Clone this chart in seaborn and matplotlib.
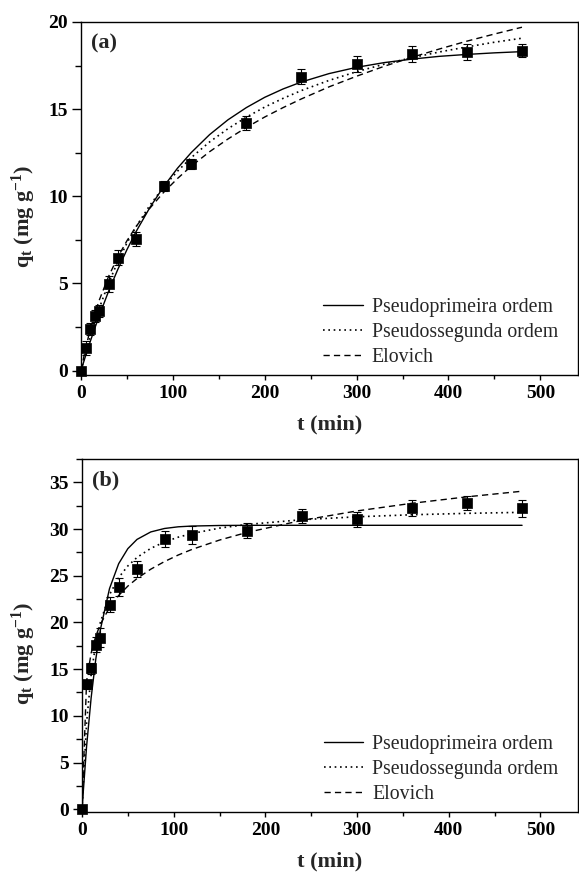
import matplotlib
matplotlib.use("Agg")
import matplotlib.pyplot as plt
import seaborn as sns
from matplotlib.ticker import MultipleLocator

# ---------------- data: panel (a) ----------------
t_a = [0, 5, 10, 15, 20, 30, 40, 60, 90, 120, 180, 240, 300, 360, 420, 480]
q_a = [0, 1.30, 2.37, 3.14, 3.40, 4.96, 6.49, 7.55, 10.60, 11.86, 14.23, 16.87, 17.58, 18.15, 18.27, 18.36]
err_a = [0.2, 0.4, 0.35, 0.35, 0.35, 0.45, 0.45, 0.4, 0.3, 0.3, 0.4, 0.42, 0.45, 0.45, 0.45, 0.38]

tf_a = [0, 5, 10, 15, 20, 30, 40, 50, 60, 75, 90, 105, 120, 140, 160, 180, 200, 220, 240, 270, 300, 330, 360, 390, 420, 450, 480]
pfo_a = [0, 0.85, 1.66, 2.43, 3.17, 4.55, 5.80, 6.94, 7.98, 9.36, 10.56, 11.61, 12.51, 13.54, 14.39, 15.09, 15.68, 16.16, 16.56, 17.04, 17.40, 17.67, 17.87, 18.03, 18.14, 18.23, 18.30]
pso_a = [0, 1.02, 1.95, 2.81, 3.60, 5.02, 6.24, 7.32, 8.26, 9.49, 10.54, 11.44, 12.22, 13.12, 13.88, 14.54, 15.12, 15.62, 16.07, 16.65, 17.15, 17.58, 17.95, 18.28, 18.57, 18.84, 19.07]
elo_a = [0, 1.28, 2.35, 3.26, 4.06, 5.40, 6.51, 7.45, 8.27, 9.32, 10.23, 11.02, 11.73, 12.56, 13.29, 13.95, 14.55, 15.09, 15.59, 16.28, 16.89, 17.46, 17.97, 18.45, 18.90, 19.31, 19.70]

# ---------------- data: panel (b) ----------------
t_b = [0, 5, 10, 15, 20, 30, 40, 60, 90, 120, 180, 240, 300, 360, 420, 480]
q_b = [0, 13.38, 15.09, 17.59, 18.37, 21.87, 23.79, 25.72, 28.93, 29.36, 29.84, 31.43, 31.07, 32.28, 32.82, 32.22]
err_b = [0.3, 0.5, 0.6, 0.8, 1.0, 0.8, 1.0, 0.9, 0.9, 1.0, 0.85, 0.75, 0.8, 0.85, 0.75, 0.9]

tf_b = [0, 5, 10, 15, 20, 30, 40, 50, 60, 75, 90, 105, 120, 150, 180, 240, 300, 360, 420, 480]
pfo_b = [0, 6.72, 11.96, 16.04, 19.22, 23.62, 26.29, 27.90, 28.89, 29.69, 30.06, 30.24, 30.32, 30.38, 30.40, 30.40, 30.40, 30.40, 30.40, 30.40]
pso_b = [0, 9.26, 14.42, 17.72, 20.00, 22.97, 24.80, 26.05, 26.96, 27.93, 28.62, 29.13, 29.52, 30.10, 30.49, 31.00, 31.31, 31.53, 31.68, 31.79]
elo_b = [0, 13.71, 16.73, 18.52, 19.79, 21.60, 22.89, 23.89, 24.70, 25.70, 26.52, 27.22, 27.82, 28.82, 29.64, 30.93, 31.94, 32.76, 33.45, 34.05]

series_labels = ["Pseudoprimeira ordem", "Pseudossegunda ordem", "Elovich"]
panel_tags = ["(a)", "(b)"]
x_label = "t (min)"
y_label = r"q$_{\mathbf{t}}$ (mg g$^{\mathbf{-1}}$)"

sns.set_style("ticks")
plt.rcParams["font.family"] = ["Liberation Serif", "DejaVu Serif"]
plt.rcParams["font.weight"] = "bold"
plt.rcParams["mathtext.fontset"] = "custom"
plt.rcParams["mathtext.rm"] = "Liberation Serif:bold"
plt.rcParams["mathtext.bf"] = "Liberation Serif:bold"
plt.rcParams["mathtext.it"] = "Liberation Serif:bold"
plt.rcParams["axes.linewidth"] = 1.0
plt.rcParams["axes.edgecolor"] = "black"

fig = plt.figure(figsize=(5.79, 8.75), dpi=100)
W, H = 579.0, 875.0
ax1 = fig.add_axes([81 / W, 1 - 375 / H, 497 / W, 353 / H])
ax2 = fig.add_axes([82 / W, 1 - 812 / H, 496 / W, 353 / H])


def panel(ax, t, q, e, tf, f1, f2, f3, ylim, tag, ylab_x):
    sns.lineplot(x=tf, y=f1, ax=ax, color="black", lw=1.0, linestyle="-",
                 label=series_labels[0], sort=False)
    sns.lineplot(x=tf, y=f2, ax=ax, color="black", lw=1.2, linestyle=(0, (1, 2.2)),
                 label=series_labels[1], sort=False)
    sns.lineplot(x=tf, y=f3, ax=ax, color="black", lw=1.0, linestyle=(0, (4.5, 3)),
                 label=series_labels[2], sort=False)
    ax.errorbar(t, q, yerr=e, fmt="none", ecolor="black", elinewidth=0.8,
                capsize=3.2, capthick=0.8, zorder=3)
    sns.scatterplot(x=t, y=q, ax=ax, marker="s", s=42, color="black",
                    edgecolor="black", linewidth=0.5, zorder=4, clip_on=False,
                    legend=False)
    ax.set_xlim(0, 541)
    ax.set_ylim(*ylim)
    ax.xaxis.set_major_locator(MultipleLocator(100))
    ax.xaxis.set_minor_locator(MultipleLocator(50))
    ax.yaxis.set_major_locator(MultipleLocator(5))
    ax.yaxis.set_minor_locator(MultipleLocator(2.5))
    ax.tick_params(axis="both", which="both", direction="out", top=False,
                   right=False, width=1.0, colors="black", labelsize=14)
    ax.tick_params(axis="y", which="major", length=6.5, pad=3)
    ax.tick_params(axis="y", which="minor", length=4.3)
    ax.tick_params(axis="x", which="major", length=3.8, pad=3.5)
    ax.tick_params(axis="x", which="minor", length=2.6)
    for s in ax.spines.values():
        s.set_visible(True)
        s.set_color("black")
        s.set_linewidth(1.0)
    ax.set_xlabel(x_label, fontsize=16, fontweight="bold", labelpad=9)
    ax.set_ylabel(y_label, fontsize=16, fontweight="bold")
    ax.yaxis.set_label_coords(ylab_x, 0.45)
    ax.text(0.02, 0.968, tag, transform=ax.transAxes, fontsize=16,
            fontweight="bold", ha="left", va="top")
    handles, labels = ax.get_legend_handles_labels()
    ax.legend(handles[:3], labels[:3], loc="upper left",
              bbox_to_anchor=(0.487, 0.218), frameon=False, borderpad=0,
              borderaxespad=0, handlelength=2.0, handletextpad=0.45,
              labelspacing=0.3, prop={"family": "Liberation Serif",
                                      "weight": "normal", "size": 14.3})


panel(ax1, t_a, q_a, err_a, tf_a, pfo_a, pso_a, elo_a, (-0.25, 20), panel_tags[0], -0.087)
panel(ax2, t_b, q_b, err_b, tf_b, pfo_b, pso_b, elo_b, (-0.3, 37.5), panel_tags[1], -0.089)

fig.savefig("out.png", dpi=100, facecolor="white")
